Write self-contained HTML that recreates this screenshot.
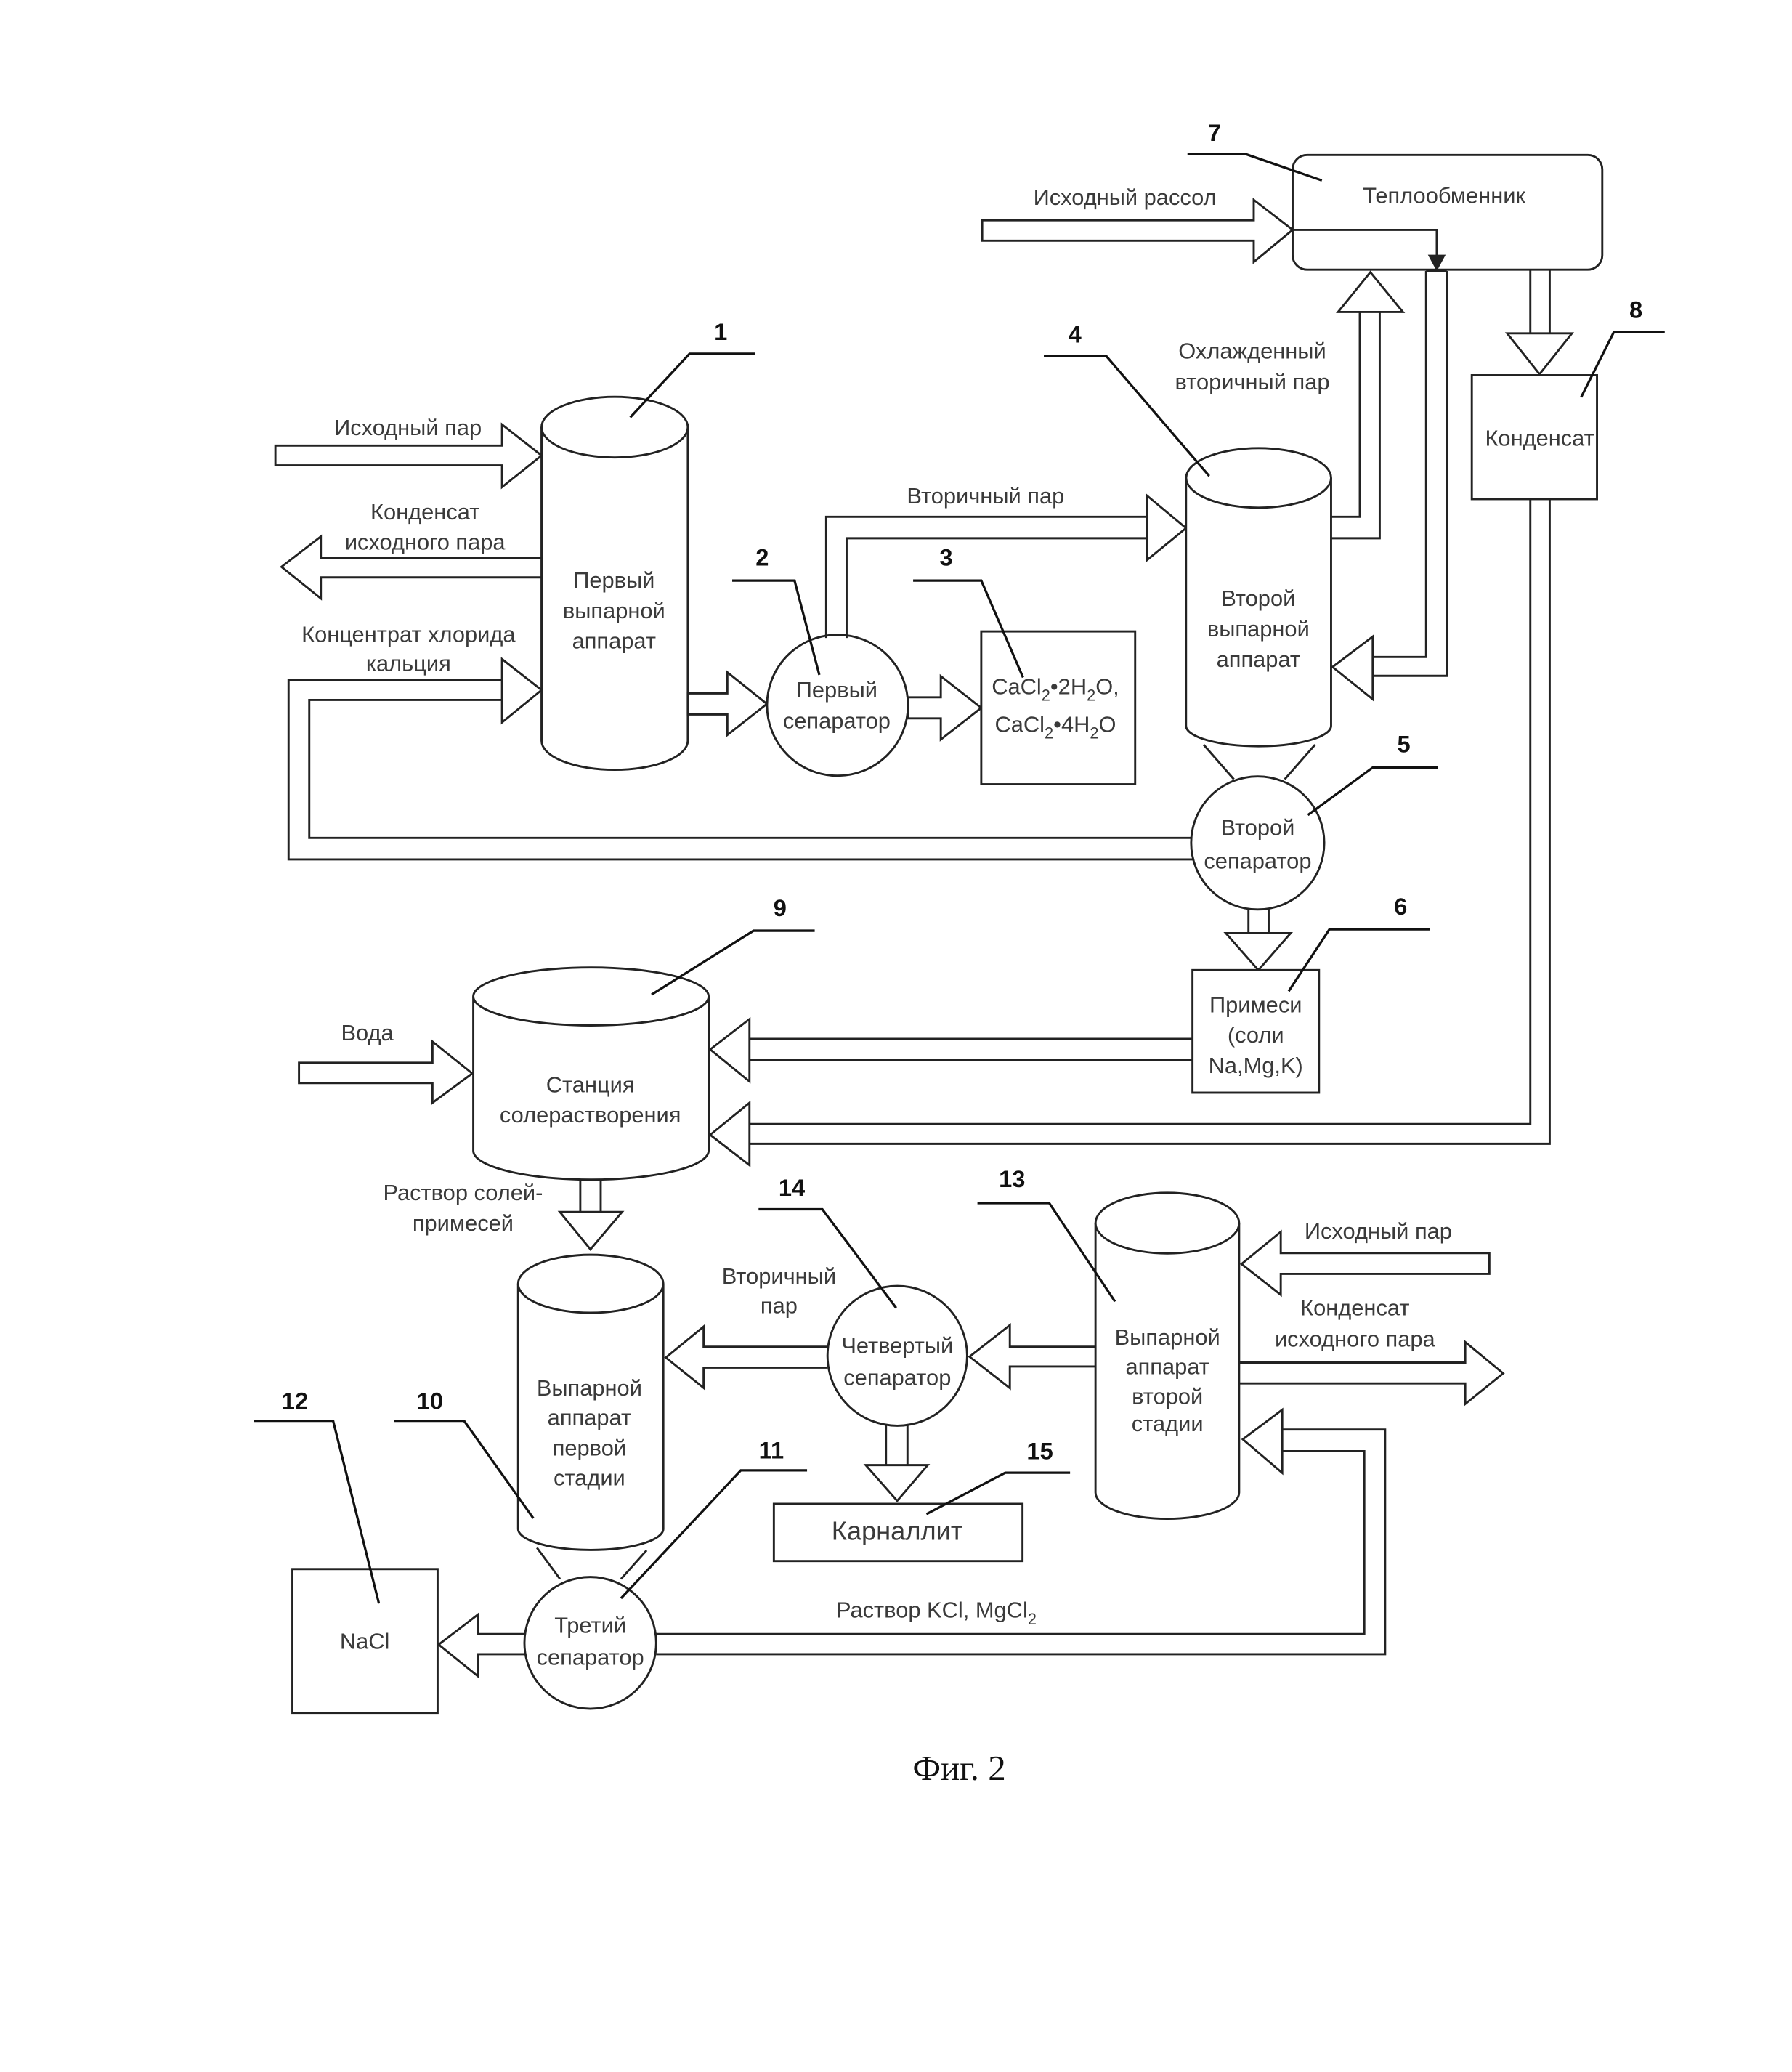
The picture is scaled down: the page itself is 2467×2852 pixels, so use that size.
<!DOCTYPE html>
<html><head><meta charset="utf-8"><style>
html,body{margin:0;padding:0;background:#fff;}
svg{display:block;}
text{font-family:"Liberation Sans","DejaVu Sans",sans-serif;fill:#3a3a3a;font-size:17px;}
.n{font-weight:bold;fill:#111;font-size:18px;}
</style></head><body>
<svg width="2467" height="2852" viewBox="0 0 1360 1572" xmlns="http://www.w3.org/2000/svg">
<g fill="#fff" stroke="#222" stroke-width="1.6" stroke-linejoin="miter">

<!-- Cylinder 1 -->
<path d="M411,324 L411,562 A55.5,22 0 0 0 522,562 L522,324"/>
<ellipse cx="466.5" cy="324" rx="55.5" ry="23"/>
<!-- arrow Исходный пар -->
<polygon points="209,338 381,338 381,322 411,345.5 381,369.5 381,353 209,353"/>
<!-- arrow Конденсат left -->
<polygon points="411,423 243.5,423 243.5,407 213.6,430 243.5,454 243.5,438 411,438"/>
<!-- concentrate loop into cyl1 -->
<polygon points="381,516 381,500 411,523.5 381,548 381,531" />
<polyline fill="none" points="381,516 219,516 219,652 906,652"/>
<polyline fill="none" points="381,531 234.7,531 234.7,635.7 906,635.7"/>
<!-- arrow cyl1 -> sep2 -->
<polygon points="522,526 552,526 552,510 582,534 552,557.6 552,542 522,542"/>
<!-- sep2 -->
<circle cx="635.6" cy="535" r="53.5"/>
<!-- secondary steam pipe -->
<polyline fill="none" points="627,484 627,392 870.3,392"/>
<polyline fill="none" points="642.5,484 642.5,408.3 870.3,408.3"/>
<polygon points="870.3,392 870.3,375.8 900.1,400.6 870.3,425 870.3,408.3"/>
<!-- arrow sep2 -> box3 -->
<polygon points="689,529 714,529 714,513 744.7,537 714,561 714,545 689,545"/>
<!-- box 3 -->
<rect x="744.7" y="479" width="116.8" height="116"/>

<!-- Cylinder 4 -->
<path d="M900.1,362.5 L900.1,550.6 A55,15.5 0 0 0 1010.2,550.6 L1010.2,362.5"/>
<ellipse cx="955.2" cy="362.5" rx="55" ry="22.6"/>
<!-- cone -->
<line x1="913.5" y1="565" x2="936.4" y2="591.2"/>
<line x1="998" y1="565" x2="975" y2="591.2"/>
<!-- sep5 -->
<circle cx="954.5" cy="639.5" r="50.5"/>
<!-- cooled steam up to HX -->
<polyline fill="none" points="1010.2,392 1032,392 1032,236.6"/>
<polyline fill="none" points="1010.2,408.3 1047.1,408.3 1047.1,236.6"/>
<polygon points="1032,236.6 1015.5,236.6 1040,206.4 1064.7,236.6 1047.1,236.6"/>

<!-- Heat exchanger -->
<rect x="981" y="117.5" width="235" height="87" rx="11" ry="11"/>
<!-- Исходный рассол -->
<polygon points="745.4,167 951.5,167 951.5,151.5 981,174.3 951.5,198.7 951.5,182.5 745.4,182.5"/>
<polyline fill="none" points="981,174.3 1090.4,174.3 1090.4,196"/>
<polygon fill="#222" points="1085,194 1095.8,194 1090.4,204"/>
<!-- pipe down to cyl4 -->
<polyline fill="none" points="1082.3,205.5 1098,205.5"/>
<polyline fill="none" points="1082.3,205.5 1082.3,498.4 1041.8,498.4"/>
<polyline fill="none" points="1098,205.5 1098,512.7 1041.8,512.7"/>
<polygon points="1041.8,498.4 1041.8,482.9 1011.3,506 1041.8,530.5 1041.8,512.7"/>
<!-- HX -> condensate box -->
<polyline fill="none" points="1161.4,204.5 1161.4,252.8"/>
<polyline fill="none" points="1176.1,204.5 1176.1,252.8"/>
<polygon points="1161.4,252.8 1143.8,252.8 1168.4,283.8 1193,252.8 1176.1,252.8"/>
<rect x="1117" y="284.6" width="95" height="94"/>
<!-- condensate loop to station 9 -->
<polyline fill="none" points="1161.4,378.5 1161.4,852.8 568.8,852.8"/>
<polyline fill="none" points="1176.1,378.5 1176.1,867.8 568.8,867.8"/>
<polygon points="568.8,852.8 568.8,836.7 539,861 568.8,884 568.8,867.8"/>

<!-- sep5 -> box6 -->
<polyline fill="none" points="947.5,689 947.5,708"/>
<polyline fill="none" points="962.8,689 962.8,708"/>
<polygon points="947.5,708 930.3,708 955,736 979.5,708 962.8,708"/>
<rect x="905" y="736" width="96" height="93"/>
<!-- Примеси -> station -->
<polyline fill="none" points="905,788.2 568.8,788.2"/>
<polyline fill="none" points="905,804.3 568.8,804.3"/>
<polygon points="568.8,788.2 568.8,773.2 539,796.2 568.8,820.5 568.8,804.3"/>

<!-- Station 9 -->
<path d="M359.2,756 L359.2,873 A89.3,22 0 0 0 537.8,873 L537.8,756"/>
<ellipse cx="448.5" cy="756" rx="89.3" ry="22"/>
<!-- Вода -->
<polygon points="226.9,806.3 328.2,806.3 328.2,790.2 358.4,814.4 328.2,836.7 328.2,821.7 226.9,821.7"/>
<!-- Раствор солей down -->
<polyline fill="none" points="440.4,895 440.4,919.5"/>
<polyline fill="none" points="455.9,895 455.9,919.5"/>
<polygon points="440.4,919.5 424.9,919.5 448.1,947.9 472.1,919.5 455.9,919.5"/>

<!-- Cylinder 10 -->
<path d="M393.2,974 L393.2,1160 A55.1,16 0 0 0 503.4,1160 L503.4,974"/>
<ellipse cx="448.3" cy="974" rx="55.1" ry="22"/>
<line x1="407.5" y1="1174.3" x2="425" y2="1198"/>
<line x1="490.7" y1="1176.3" x2="471.3" y2="1198"/>
<!-- sep11 -->
<circle cx="448" cy="1246.5" r="50"/>
<!-- sep11 -> NaCl -->
<polyline fill="none" points="398,1239.8 363,1239.8 363,1224.8 332.9,1247.8 363,1272 363,1255.1 398,1255.1"/>
<rect x="221.9" y="1190.5" width="110.2" height="109.1"/>
<!-- KCl loop -->
<polyline fill="none" points="498,1239.8 1035.4,1239.8 1035.4,1101 973.1,1101"/>
<polyline fill="none" points="498,1255.1 1051.2,1255.1 1051.2,1084.6 973.1,1084.6"/>
<polygon points="973.1,1084.6 973.1,1069.6 943.2,1092 973.1,1117.5 973.1,1101"/>

<!-- sep14 -->
<circle cx="681" cy="1028.7" r="53"/>
<polyline fill="none" points="628,1021.8 534,1021.8 534,1006.5 505.3,1030 534,1053 534,1037.6 628,1037.6"/>
<polyline fill="none" points="672.4,1081 672.4,1111.6"/>
<polyline fill="none" points="688.7,1081 688.7,1111.6"/>
<polygon points="672.4,1111.6 657,1111.6 680.9,1138.7 704.1,1111.6 688.7,1111.6"/>
<rect x="587.3" y="1141" width="188.7" height="43.4"/>

<!-- Cylinder 13 -->
<path d="M831.4,928 L831.4,1132.4 A54.5,20 0 0 0 940.4,1132.4 L940.4,928"/>
<ellipse cx="885.9" cy="928" rx="54.5" ry="23"/>
<polyline fill="none" points="831.4,1021.8 766.4,1021.8 766.4,1005.4 735.8,1029.3 766.4,1053.2 766.4,1036.8 831.4,1036.8"/>
<polygon points="1130.3,950.7 972,950.7 972,934.6 942.2,959 972,982.4 972,966.5 1130.3,966.5"/>
<polygon points="940.4,1033.8 1112,1033.8 1112,1018.2 1140.8,1042 1112,1065.2 1112,1049.6 940.4,1049.6"/>
</g>

<!-- leader lines -->
<g fill="none" stroke="#111" stroke-width="1.8">
<polyline points="478.3,316.6 523.3,268.3 573,268.3"/>
<polyline points="555.7,440.4 603,440.4 621.8,512"/>
<polyline points="776.4,513.9 744.7,440.4 693,440.4"/>
<polyline points="792.2,270.2 839.7,270.2 917.7,361.1"/>
<polyline points="992.6,618.3 1041.8,582.3 1091,582.3"/>
<polyline points="978,752 1009,705 1085,705"/>
<polyline points="901.2,116.7 945.1,116.7 1003.2,136.8"/>
<polyline points="1200,301.2 1224.7,252 1263.4,252"/>
<polyline points="494.5,754.6 571.9,706.1 618.3,706.1"/>
<polyline points="299.2,1078 352.2,1078 404.8,1152"/>
<polyline points="192.9,1078 252.8,1078 287.6,1216.7"/>
<polyline points="471.3,1212.7 562.2,1115.6 612.5,1115.6"/>
<polyline points="575.7,917.5 624.1,917.5 680.1,992.3"/>
<polyline points="741.8,912.8 796.3,912.8 846.2,987.5"/>
<polyline points="703.1,1148.8 762.9,1117.4 812.1,1117.4"/>
</g>

<!-- numbers -->
<g class="n" text-anchor="middle">
<text class="n" x="547" y="258">1</text>
<text class="n" x="578.5" y="429">2</text>
<text class="n" x="718" y="429">3</text>
<text class="n" x="815.7" y="259.8">4</text>
<text class="n" x="1065.4" y="570.7">5</text>
<text class="n" x="1063" y="694">6</text>
<text class="n" x="921.6" y="106.7">7</text>
<text class="n" x="1241.5" y="241.2">8</text>
<text class="n" x="592" y="695">9</text>
<text class="n" x="326.3" y="1069">10</text>
<text class="n" x="585.4" y="1106.7">11</text>
<text class="n" x="223.8" y="1069">12</text>
<text class="n" x="768.1" y="900.8">13</text>
<text class="n" x="600.9" y="907.4">14</text>
<text class="n" x="789.2" y="1107">15</text>
</g>

<!-- labels -->
<g text-anchor="middle">
<text x="309.6" y="330">Исходный пар</text>
<text x="322.6" y="394">Конденсат</text>
<text x="322.6" y="417">исходного пара</text>
<text x="310" y="487">Концентрат хлорида</text>
<text x="310" y="509">кальция</text>
<text x="466" y="446">Первый</text>
<text x="466" y="469">выпарной</text>
<text x="466" y="492">аппарат</text>
<text x="635" y="529">Первый</text>
<text x="635" y="552.6">сепаратор</text>
<text x="801" y="526.6">CaCl<tspan font-size="12" dy="5">2</tspan><tspan dy="-5">•2H</tspan><tspan font-size="12" dy="5">2</tspan><tspan dy="-5">O,</tspan></text>
<text x="801" y="555.3">CaCl<tspan font-size="12" dy="5">2</tspan><tspan dy="-5">•4H</tspan><tspan font-size="12" dy="5">2</tspan><tspan dy="-5">O</tspan></text>
<text x="748" y="382">Вторичный пар</text>
<text x="950.4" y="272">Охлажденный</text>
<text x="950.4" y="295.4">вторичный пар</text>
<text x="955" y="459.7">Второй</text>
<text x="955" y="482.9">выпарной</text>
<text x="955" y="506">аппарат</text>
<text x="853.7" y="155.4">Исходный рассол</text>
<text x="1096" y="154">Теплообменник</text>
<text x="1168.5" y="338">Конденсат</text>
<text x="954.5" y="633.7">Второй</text>
<text x="954.5" y="658.9">сепаратор</text>
<text x="953" y="768">Примеси</text>
<text x="953" y="791">(соли</text>
<text x="953" y="814">Na,Mg,K)</text>
<text x="278.7" y="789.4">Вода</text>
<text x="448" y="828.6">Станция</text>
<text x="448" y="851.6">солерастворения</text>
<text x="351.4" y="910.7">Раствор солей-</text>
<text x="351.4" y="933.7">примесей</text>
<text x="447.3" y="1059">Выпарной</text>
<text x="447.3" y="1081.3">аппарат</text>
<text x="447.3" y="1104.3">первой</text>
<text x="447.3" y="1127">стадии</text>
<text x="448" y="1239">Третий</text>
<text x="448" y="1263">сепаратор</text>
<text x="276.8" y="1251">NaCl</text>
<text x="591.2" y="974">Вторичный</text>
<text x="591.2" y="996.4">пар</text>
<text x="681" y="1026.7">Четвертый</text>
<text x="681" y="1051">сепаратор</text>
<text x="680.9" y="1168.2" style="font-size:20px">Карналлит</text>
<text x="886" y="1020.3">Выпарной</text>
<text x="886" y="1042.7">аппарат</text>
<text x="886" y="1065.2">второй</text>
<text x="886" y="1086">стадии</text>
<text x="1046" y="939.7">Исходный пар</text>
<text x="1028.3" y="998">Конденсат</text>
<text x="1028.3" y="1021.8">исходного пара</text>
<text x="728" y="1350.6" style="font-family:'Liberation Serif',serif;font-size:27px;fill:#111">Фиг. 2</text>
</g>
<text x="634.5" y="1227.4">Раствор KCl, MgCl<tspan font-size="12" dy="5">2</tspan></text>
</svg>
</body></html>
